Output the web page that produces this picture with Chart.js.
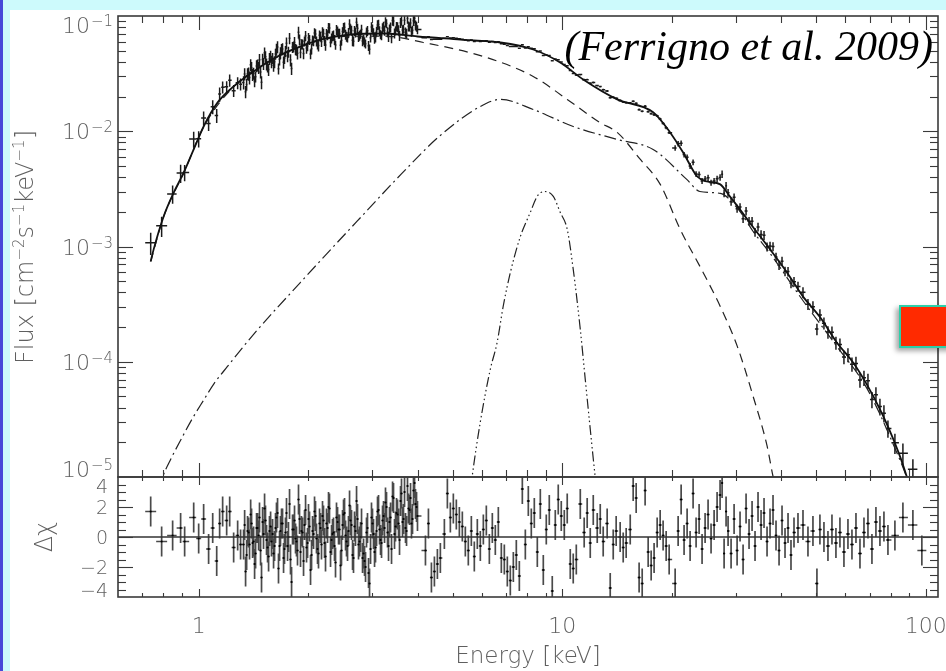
<!DOCTYPE html>
<html lang="en">
<head>
<meta charset="utf-8">
<title>Broad-band X-ray spectrum with residuals</title>
<script src="https://cdn.jsdelivr.net/npm/chart.js@4.4.1/dist/chart.umd.min.js"></script>
<style>
  html, body { margin: 0; padding: 0; }
  body { width: 946px; height: 671px; overflow: hidden; position: relative; background: #cdfafc; }
  #stripe { position: absolute; left: 0; top: 0; width: 3px; height: 671px; background: #4848d8; }
  #sheet { position: absolute; left: 10px; top: 10px; width: 936px; height: 661px; background: #ffffff; }
  canvas { position: absolute; left: 0; top: 0; }
  #marker { position: absolute; left: 899px; top: 305px; width: 60px; height: 43px; box-sizing: border-box;
            background: #ff2a00; border: 2px solid #2ccfa9; box-shadow: -3px 3px 5px rgba(0,0,0,0.35); }
</style>
</head>
<body>
<div id="stripe"></div>
<div id="sheet"></div>
<canvas id="resid" width="946" height="671"></canvas>
<canvas id="flux" width="946" height="671"></canvas>
<div id="marker"></div>
<script>
// ---------- broad-band spectrum: bin centres (keV) ----------
const energy = [
  0.738, 0.791, 0.848, 0.892, 0.915, 0.969, 1.000, 1.032, 1.065, 1.093, 1.121, 1.142, 1.164, 1.194, 1.217, 1.248, 1.280, 1.304,
  1.329, 1.346, 1.363, 1.380, 1.398, 1.416, 1.434, 1.452, 1.470, 1.489,
  1.508, 1.527, 1.547, 1.566, 1.586, 1.607, 1.627, 1.648, 1.669, 1.690,
  1.712, 1.733, 1.756, 1.778, 1.801, 1.824, 1.847, 1.870, 1.894, 1.918,
  1.943, 1.968, 1.993, 2.018, 2.044, 2.070, 2.096, 2.123, 2.150, 2.177,
  2.205, 2.233, 2.262, 2.290, 2.320, 2.349, 2.379, 2.410, 2.440, 2.471,
  2.503, 2.535, 2.567, 2.600, 2.633, 2.666, 2.700, 2.735, 2.770, 2.805,
  2.841, 2.877, 2.913, 2.951, 2.988, 3.026, 3.065, 3.104, 3.144, 3.184,
  3.224, 3.265, 3.307, 3.349, 3.392, 3.435, 3.479, 3.523, 3.568, 3.613,
  3.659, 3.706, 3.753, 3.801, 3.849, 3.898, 3.948, 3.998,
  4.205, 4.285, 4.367, 4.450, 4.535, 4.621, 4.740, 4.831, 4.923, 5.017,
  5.113, 5.212, 5.311, 5.413, 5.516, 5.623, 5.730, 5.840, 5.952, 6.067,
  6.183, 6.302, 6.422, 6.545, 6.671, 6.799, 6.929, 7.062, 7.197, 7.336,
  7.476, 7.620, 7.766, 7.915, 8.066, 8.220, 8.378, 8.539, 8.703, 8.869,
  9.038, 9.211, 9.387, 9.568, 9.750, 9.938, 10.13, 10.32, 10.52,
  10.72, 10.93, 11.21, 11.49, 11.71, 11.94, 12.17, 12.48, 12.72, 12.96,
  13.29, 13.55, 13.81, 14.07, 14.43, 14.71, 14.99, 15.38, 15.67, 15.97,
  16.27, 16.59, 16.90, 17.23, 17.56, 17.89, 18.24, 18.59, 18.94, 19.31, 19.68,
  20.44, 20.83, 21.23, 21.63, 22.05, 22.47, 22.90, 23.34, 23.79, 24.24,
  24.71, 25.18, 25.66, 26.16, 26.66, 27.17, 27.52, 27.87, 28.22, 28.58,
  29.13, 29.69, 30.26, 30.83, 31.43, 32.03, 32.64, 33.27, 33.90, 34.55,
  35.22, 35.89, 36.58, 37.28, 37.99, 38.72, 39.47, 40.22, 40.99, 41.78,
  42.57, 43.39, 44.50, 45.93, 47.40, 48.92, 50.17, 51.13, 52.45, 53.80,
  55.18, 56.59, 58.04, 59.53, 61.06, 62.63, 64.24, 65.89, 67.58, 69.31,
  71.08, 72.90, 74.77, 76.69, 78.66, 82.21, 86.48, 92.12, 97.50
];

// unfolded flux, cm^-2 s^-1 keV^-1
const flux = [
  1.08e-3, 1.51e-3, 2.86e-3, 4.34e-3, 4.39e-3, 8.55e-3, 8.61e-3, 1.30e-2, 1.17e-2, 1.63e-2, 1.37e-2, 2.10e-2, 2.41e-2, 2.43e-2, 2.77e-2, 2.25e-2, 2.63e-2, 2.56e-2,
  .0265, .0220, .0315, .0292, .0356, .0318, .0297, .0374, .0418, .0266,
  .0386, .0442, .0364, .0426, .0401, .0373, .0468, .0539, .0422, .0514,
  .0397, .0494, .0451, .0640, .0350, .0542, .0514, .0476, .0624, .0570,
  .0473, .0674, .0549, .0621, .0521, .0608, .0697, .0568, .0680, .0597,
  .0706, .0560, .0684, .0785, .0641, .0679, .0560, .0738, .0705, .0617,
  .0789, .0690, .0647, .0851, .0749, .0603, .0723, .0784, .0676, .0764,
  .0626, .0573, .0744, .0515, .0801, .0717, .0656, .0834, .0741, .0678,
  .0811, .0888, .0725, .0776, .0646, .0904, .0744, .0803, .0674, .0916,
  .0769, .0721, .0950, .0806, .0733, .0910, .0830, .0764,
  .0649, .0662, .0626, .0628, .0630, .0630, .0641, .0662, .0644, .0648,
  .0641, .0635, .0629, .0618, .0609, .0618, .0600, .0611, .0601, .0608,
  .0610, .0591, .0600, .0590, .0598, .0575, .0569, .0556, .0544, .0544,
  .0544, .0526, .0563, .0528, .0542, .0524, .0520, .0489, .0497, .0454,
  .0459, .0454, .0409, .0423, .0417, .0398, .0379, .0370, .0337,
  .0317, .0307, .0310, .0280, .0280, .0261, .0265, .0249, .0244, .0229,
  .0223, .0195, .0197, .0193, .0185, .0179, .0177, .0176, .0182, .0175,
  .0154, .0149, .0165, .0148, .0142, .0139, .0136, .0128, .0117, .0107, .0097,
  7.16e-3, 7.79e-3, 7.88e-3, 6.27e-3, 5.96e-3, 5.00e-3, 5.37e-3, 4.25e-3, 4.22e-3, 3.71e-3,
  3.86e-3, 3.94e-3, 3.58e-3, 3.70e-3, 3.87e-3, 3.97e-3, 4.24e-3, 2.90e-3, 3.37e-3, 2.93e-3,
  2.45e-3, 2.67e-3, 2.13e-3, 2.20e-3, 1.74e-3, 2.03e-3, 1.66e-3, 1.66e-3, 1.33e-3, 1.48e-3,
  1.27e-3, 1.25e-3, 9.96e-4, 1.01e-3, 1.00e-3, 8.09e-4, 6.88e-4, 7.46e-4, 6.09e-4, 6.07e-4,
  4.80e-4, 4.95e-4, 4.50e-4, 4.00e-4, 3.16e-4, 3.00e-4, 1.92e-4, 2.55e-4, 2.16e-4, 1.81e-4,
  1.80e-4, 1.46e-4, 1.41e-4, 1.10e-4, 1.15e-4, 9.53e-5, 9.67e-5, 6.95e-5, 7.25e-5, 6.83e-5,
  4.70e-5, 5.18e-5, 4.09e-5, 3.58e-5, 2.64e-5, 1.98e-5, 1.61e-5, 1.17e-5, 6.5e-6
];

// 1-sigma flux uncertainty, percent
const fluxErrPct = [
  22, 20, 18, 18, 16, 16, 16, 14, 14, 14, 14, 14, 12, 12, 12, 12, 12, 12,
  13, 12, 12, 13, 12, 12, 11, 12, 12, 13, 12, 12, 11, 12, 12, 12, 11, 12, 12, 11,
  12, 11, 12, 11, 12, 11, 11, 12, 11,
  10, 11, 10, 10, 10, 11, 10, 10, 10, 10, 10, 10, 11, 10, 10, 10, 10, 9, 10, 10,
  10, 10, 10, 9, 10, 10, 10, 10, 9, 10, 10, 10, 9, 10, 10, 10, 9, 10, 10, 10,
  9, 10, 10, 10, 9, 10, 10, 9, 10, 10, 10, 9, 10, 10, 9, 10, 10, 10, 9,
  1.5, 1.5, 1.5, 1.5, 1.5, 1.4, 1.4, 1.4, 1.4, 1.4, 1.4, 1.4, 1.4, 1.4, 1.4, 1.4, 1.4, 1.4, 1.4, 1.4,
  1.4, 1.4, 1.4, 1.4, 1.4, 1.4, 1.4, 1.4, 1.4, 1.4, 1.4, 1.4, 1.4, 1.4, 1.4, 1.4, 1.4, 1.5, 1.5, 1.5,
  1.5, 1.5, 1.5, 1.5, 1.5, 1.5, 1.6, 1.6, 1.6,
  1.7, 1.7, 1.8, 1.8, 1.8, 1.8, 1.9, 1.9, 1.9, 1.9, 2.0, 2.0, 2.0, 2.0, 2.0, 2.0, 2.0, 2.1, 2.1, 2.1,
  2.1, 2.1, 2.2, 2.2, 2.2, 2.3, 2.3, 2.4, 2.4, 2.5, 2.6,
  5.5, 5.5, 5.6, 5.6, 5.7, 5.8, 5.8, 5.9, 6.0, 6.0, 6.1, 6.2, 6.2, 6.3, 6.4, 6.5,
  7.5, 7.6, 7.7, 7.8, 7.9, 8.0, 8.0, 8.1, 8.2, 8.3, 8.4, 8.5, 8.6, 8.7,
  8.8, 8.9, 9, 9, 9.1, 9.2, 9.3, 9.4, 9.5, 9.6, 9.7, 9.8, 10,
  11, 11, 11.5, 11.5, 12, 12, 12.5, 12.5, 13, 13,
  13.5, 14, 14, 14.5, 14.5, 15, 15,
  16, 16, 16.5, 17, 17,
  20, 21, 22, 24
];

// residuals, (data - model) / sigma
const resid = [
  1.7, -0.3, 0.1, 0.6, -0.3, 1.3, -0.1, 1.2, -0.8, 0.6, -1.6, 0.9, 1.7, 1.1, 1.7, -0.7, 0.1, -0.5,
  -0.5, -2.3, 0.4, -0.5, 0.9, -0.3, -1.1, 0.6, 1.3, -2.7,
  0.2, 1.1, -0.7, 0.4, -0.3, -1.1, 0.6, 1.6, -0.6, 0.9,
  -1.4, 0.3, -0.6, 2.2, -3.0, 0.5, -0.1, -0.9, 1.2, 0.4,
  -1.6, 1.8, -0.4, 0.7, -1.2, 0.2, 1.4, -0.8, 0.9, -0.5,
  1.1, -1.3, 0.6, 1.9, -0.2, 0.3, -1.7, 1.0, 0.5, -0.9,
  1.5, 0.1, -0.6, 2.1, 0.8, -1.4, 0.4, 1.2, -0.3, 0.9,
  -1.1, -2.0, 0.6, -3.1, 1.3, 0.2, -0.7, 1.7, 0.5, -0.4,
  1.4, 2.3, 0.3, 1.0, -0.8, 2.6, 0.7, 1.5, -0.2, 2.9,
  1.2, 0.6, 3.4, 1.8, 0.9, 3.1, 2.2, 1.4,
  -0.9, 0.9, -2.7, -2.3, -1.8, -1.4, 0.2, 2.9, 1.3, 1.9,
  1.5, 1.0, 0.7, -0.3, -0.9, 0.4, -1.3, 0.2, -0.6, 0.5,
  1.1, -0.8, 0.6, -0.2, 1.0, -1.4, -1.5, -2.3, -2.9, -2.0,
  -1.2, -2.6, 3.2, -0.5, 2.4, 0.9, 1.6, -1.0, 2.2, -2.2,
  0.5, 1.8, -3.6, 0.8, 2.5, 1.4, 0.8, 1.9, -1.8,
  -2.1, -1.5, 2.2, 0.3, 1.6, -0.4, 1.8, 0.6, 1.2, -0.3,
  0.9, -3.4, -0.5, 0.4, 0.0, -0.7, -0.4, 0.5, 3.4, 2.6,
  -2.7, -3.1, 3.1, -1.0, -1.9, -1.4, 0.3, 0.8, 0.1, -0.6, -1.5,
  -3.1, 0.4, 2.5, -0.2, 0.9, -0.6, 2.9, 0.3, 1.2, -0.8,
  0.6, 1.5, -0.1, 0.8, 2.0, 2.8, 3.6, -1.1, 1.7, 0.4,
  -1.1, 1.2, -0.9, 0.7, -1.5, 1.9, 0.2, 1.4, -0.6, 2.0,
  0.8, 1.6, -0.3, 0.9, 1.8, 0.1, -0.9, 1.1, -0.4, 0.6,
  -1.2, 0.3, 0.6, 0.8, -0.3, 0.4, -3.1, 0.5, 0.0, -0.6,
  0.5, -0.4, 0.3, -1.0, 0.2, -0.5, 0.6, -1.1, 0.3, 0.9,
  -0.8, 1.0, 0.4, 0.7, -0.2, 0.1, 1.3, 0.8, -0.9
];

// ---------- second soft-band data set (1.3-4 keV) ----------
const energy2 = [
  1.338, 1.355, 1.372, 1.390, 1.407, 1.425, 1.443, 1.462, 1.480, 1.499,
  1.518, 1.537, 1.557, 1.577, 1.597, 1.617, 1.637, 1.658, 1.679, 1.701,
  1.722, 1.744, 1.766, 1.789, 1.812, 1.835, 1.858, 1.882, 1.906, 1.930,
  1.955, 1.980, 2.005, 2.031, 2.057, 2.083, 2.109, 2.136, 2.163, 2.191,
  2.219, 2.247, 2.276, 2.305, 2.334, 2.364, 2.394, 2.425, 2.456, 2.487,
  2.519, 2.551, 2.583, 2.616, 2.650, 2.683, 2.718, 2.752, 2.787, 2.823,
  2.859, 2.895, 2.932, 2.970, 3.007, 3.046, 3.085, 3.124, 3.164, 3.204,
  3.245, 3.286, 3.328, 3.371, 3.414, 3.457, 3.501, 3.546, 3.591, 3.637,
  3.683, 3.730, 3.777, 3.826, 3.874, 3.924, 3.974
];
const flux2 = [
  .0314, .0255, .0316, .0377, .0310, .0270, .0369, .0357, .0326, .0419,
  .0479, .0382, .0343, .0447, .0431, .0400, .0514, .0349, .0479, .0518,
  .0430, .0581, .0488, .0415, .0537, .0588, .0507, .0722, .0483, .0568,
  .0605, .0528, .0648, .0468, .0616, .0712, .0604, .0554, .0664, .0725,
  .0611, .0701, .0789, .0590, .0670, .0623, .0759, .0704, .0557, .0733,
  .0799, .0664, .0717, .0771, .0615, .0744, .0884, .0662, .0698, .0607,
  .0596, .0722, .0552, .0648, .0769, .0637, .0733, .0843, .0691, .0787,
  .0749, .0860, .0662, .0798, .0915, .0709, .0812, .0754, .0873, .0755,
  .0918, .0705, .0815, .0871, .0754, .0956, .0812
];
const fluxErrPct2 = [
  12, 12, 13, 12, 12, 11, 12, 12, 12, 12, 11, 12, 12, 12, 11, 12, 12, 11, 12, 12,
  11, 12, 11, 12, 11, 12, 11, 12, 11,
  10, 10, 11, 10, 10, 10, 10, 10, 11, 10, 10, 10, 10, 10, 9, 10, 10, 10, 10, 10,
  9, 10, 10, 10, 10, 11, 10, 10, 10, 9, 10, 10, 10, 10, 9, 10, 10, 10, 10, 9,
  10, 10, 9, 10, 10, 10, 10, 9, 10, 10, 10, 9, 10, 10, 10, 9, 10, 10
];
const resid2 = [
  0.8, -1.2, 0.3, 1.5, -0.4, -1.8, 0.6, 0.1, -0.9, 1.0,
  1.9, -0.2, -1.3, 0.7, 0.2, -0.6, 1.3, -2.1, 0.4, 0.9,
  -0.8, 1.6, 0.0, -1.5, 0.5, 1.1, -0.3, 2.5, -1.0, 0.3,
  0.8, -0.7, 1.2, -2.2, 0.4, 1.7, -0.1, -1.1, 0.6, 1.4,
  -0.4, 0.9, 2.0, -1.0, 0.2, -0.6, 1.3, 0.5, -1.9, 0.8,
  1.6, -0.3, 0.4, 1.1, -1.2, 0.7, 2.4, -0.5, 0.0, -1.4,
  -1.6, 0.3, -2.4, -0.8, 0.9, -1.0, 0.4, 1.8, -0.2, 1.1,
  0.6, 2.0, -0.6, 1.3, 2.7, 0.2, 1.6, 0.9, 2.4, 1.0,
  3.0, 0.4, 1.9, 2.6, 1.2, 3.6, 2.0
];

// ---------- model curves ----------
const totalE = [0.738, 0.752, 0.801, 0.854, 0.910, 0.969, 1.032, 1.128, 1.248, 1.416, 1.648, 1.906, 2.163, 2.62, 3.26,
  4.00, 5.25, 6.76, 8.32, 9.87, 11.42, 14.16, 17.78, 19.8, 21.5, 23.5, 25.0, 27.2, 28.9, 30.8,
  33.5, 37.3, 41.5, 45.9, 51.2, 56.9, 63.0, 68.8, 74.8, 79.7, 84.9, 88.7, 93.3];
const totalF = [7.43e-4, 9.44e-4, 1.82e-3, 2.94e-3, 4.39e-3, 6.95e-3, 1.10e-2, 1.78e-2, 2.45e-2, 3.30e-2, 4.45e-2, 5.44e-2, 6.25e-2, 6.91e-2, 7.05e-2,
  6.64e-2, 6.25e-2, 5.89e-2, 5.12e-2, 3.95e-2, 2.81e-2, 1.89e-2, 1.46e-2, 9.77e-3, 6.55e-3, 4.05e-3, 3.67e-3, 3.46e-3, 2.72e-3, 2.10e-3,
  1.47e-3, 9.44e-4, 5.96e-4, 3.69e-4, 2.43e-4, 1.47e-4, 9.9e-5, 6.37e-5, 3.86e-5, 2.49e-5, 1.51e-5, 1.0e-5, 6.0e-6];

// soft continuum (dashed)
const softE = [0.738, 0.801, 0.910, 1.032, 1.248, 1.648, 2.163, 2.62, 3.26, 4.15, 6.07, 8.32, 10.32, 12.7, 14.16,
  16.4, 18.6, 21.1, 24.4, 27.2, 30.3, 33.5, 36.6, 38.0, 39.7];
const softF = [7.4e-4, 1.81e-3, 4.35e-3, 1.09e-2, 2.43e-2, 4.41e-2, 6.15e-2, 6.7e-2, 6.7e-2, 5.89e-2, 4.45e-2, 2.99e-2, 1.89e-2, 1.19e-2, 9.77e-3,
  5.69e-3, 3.46e-3, 1.41e-3, 5.96e-4, 3.02e-4, 1.36e-4, 5.0e-5, 1.85e-5, 1.01e-5, 6e-6];

// hard component (dash-dot)
const hardE = [0.777, 0.796, 0.840, 0.900, 0.960, 1.030, 1.10, 1.20, 1.416, 1.906, 2.79, 3.60, 4.62, 5.95, 6.76,
  8.32, 10.72, 14.16, 17.78, 22.0, 23.9, 27.2, 30.8, 33.5, 37.3, 45.9, 56.9, 68.8, 84.9, 91.0];
const hardF = [7.7e-6, 1.0e-5, 1.45e-5, 2.2e-5, 3.2e-5, 4.6e-5, 6.4e-5, 9.1e-5, 1.73e-4, 4.89e-4, 1.79e-3, 4.22e-3, 9.20e-3, 1.64e-2, 1.89e-2,
  1.545e-2, 1.10e-2, 8.49e-3, 6.95e-3, 3.82e-3, 3.0e-3, 2.89e-3, 2.02e-3, 1.35e-3, 8.7e-4, 3.4e-4, 1.36e-4, 5.9e-5, 1.4e-5, 8e-6];

// Gaussian line (dash-dot-dot-dot)
const gaussE = [5.48, 5.65, 5.95, 6.34, 6.62, 6.88, 7.20, 7.67, 8.17, 8.53, 8.95, 9.45, 9.87, 10.32, 10.72, 11.21, 11.57, 11.94, 12.32, 12.70];
const gaussF = [4.4e-6, 1.0e-5, 2.98e-5, 8.59e-5, 1.47e-4, 3.03e-4, 5.96e-4, 1.22e-3, 1.98e-3, 2.72e-3, 3.0e-3, 2.72e-3, 1.98e-3, 1.41e-3, 6.33e-4, 1.91e-4, 7.0e-5, 2.6e-5, 1.0e-5, 4.4e-6];

// ---------- axes ----------
const energyRange = [0.6, 108];
const fluxRange = [1e-5, 0.1];
const residRange = [-4, 4];
const fluxTicks = [1e-1, 1e-2, 1e-3, 1e-4, 1e-5];
const fluxTickExp = ['\u22121', '\u22122', '\u22123', '\u22124', '\u22125'];
const residTicks = [4, 2, 0, -2, -4];
const residTickLabels = ['4', '2', '0', '\u22122', '\u22124'];
const energyTicks = [1, 10, 100];
const energyTickLabels = ['1', '10', '100'];

// ---------- helpers ----------
const INK = '#3a3a3a';
const LABEL = '#5f5f5f';
const FACE = '"DejaVu Sans", "Liberation Sans", sans-serif';
const font = (size) => `200 ${size}px ${FACE}`;
const pairs = (xs, ys) => xs.map((x, i) => ({ x, y: ys[i] }));

// bin edges halfway (in log) between neighbouring centres
const edgesOf = (es) => ({
  lo: es.map((e, i) => i > 0 ? Math.sqrt(es[i - 1] * e) : e * Math.sqrt(e / es[1])),
  hi: es.map((e, i) => i < es.length - 1 ? Math.sqrt(es[i + 1] * e) : e * Math.sqrt(e / es[i - 1]))
});
const edges1 = edgesOf(energy);
const edges2 = edgesOf(energy2);

function decadeTicks(min, max) {
  const out = [];
  for (let d = Math.floor(Math.log10(min)); d <= Math.ceil(Math.log10(max)); d++) {
    for (let m = 1; m <= 9; m++) {
      const v = m * Math.pow(10, d);
      if (v <= min * 1.0001 || v >= max * 0.9999) continue;
      out.push([v, m === 1]);
    }
  }
  return out;
}

function frameAndTicks(chart, cfg) {
  const { ctx, chartArea: a, scales: { x, y } } = chart;
  ctx.save();
  ctx.strokeStyle = INK;
  ctx.lineWidth = 1.1;
  const seg = (x0, y0, x1, y1) => { ctx.beginPath(); ctx.moveTo(x0, y0); ctx.lineTo(x1, y1); ctx.stroke(); };
  for (const [v, major] of decadeTicks(x.min, x.max)) {
    const p = Math.round(x.getPixelForValue(v)) + 0.5;
    const len = major ? cfg.xMajor : cfg.xMinor;
    seg(p, a.bottom, p, a.bottom - len);
    seg(p, a.top, p, a.top + len);
  }
  for (const [v, major] of cfg.yTicks(y)) {
    const p = Math.round(y.getPixelForValue(v)) + 0.5;
    const len = major ? cfg.yMajor : cfg.yMinor;
    seg(a.left, p, a.left + len, p);
    seg(a.right, p, a.right - len, p);
  }
  ctx.lineWidth = 1.6;
  ctx.strokeRect(a.left, a.top, a.right - a.left, a.bottom - a.top);
  ctx.restore();
}

function richRotated(ctx, parts, baseX, centerY, size, supSize, raise) {
  ctx.save();
  ctx.translate(baseX, centerY);
  ctx.rotate(-Math.PI / 2);
  ctx.fillStyle = LABEL;
  ctx.textBaseline = 'alphabetic';
  ctx.textAlign = 'left';
  const widths = parts.map(p => { ctx.font = font(p.sup ? supSize : size); return ctx.measureText(p.t).width; });
  let pos = -widths.reduce((s, w) => s + w, 0) / 2;
  parts.forEach((p, i) => {
    ctx.font = font(p.sup ? supSize : size);
    ctx.fillText(p.t, pos, p.sup ? -raise : 0);
    pos += widths[i];
  });
  ctx.restore();
}

// crosses: vertical = value error, horizontal = bin width
function drawErrorBars(chart, es, edges, ys, lo, hi, color, width) {
  const { ctx, chartArea: a, scales: { x, y } } = chart;
  ctx.save();
  ctx.beginPath();
  ctx.rect(a.left, a.top, a.right - a.left, a.bottom - a.top);
  ctx.clip();
  ctx.strokeStyle = color;
  ctx.lineWidth = width;
  ctx.beginPath();
  es.forEach((e, i) => {
    const px = x.getPixelForValue(e);
    const py = y.getPixelForValue(ys[i]);
    ctx.moveTo(px, y.getPixelForValue(lo[i]));
    ctx.lineTo(px, y.getPixelForValue(hi[i]));
    ctx.moveTo(x.getPixelForValue(edges.lo[i]), py);
    ctx.lineTo(x.getPixelForValue(edges.hi[i]), py);
  });
  ctx.stroke();
  ctx.restore();
}

const baseOptions = (padding, yScale) => ({
  responsive: false,
  animation: false,
  devicePixelRatio: 1,
  events: [],
  layout: { padding },
  plugins: { legend: { display: false }, tooltip: { enabled: false } },
  scales: {
    x: { type: 'logarithmic', min: energyRange[0], max: energyRange[1], display: false },
    y: Object.assign({ display: false }, yScale)
  }
});

// ---------- spectrum panel ----------
const errLo = (f, p) => f.map((v, i) => v * (1 - p[i] / 100));
const errHi = (f, p) => f.map((v, i) => v * (1 + p[i] / 100));

new Chart(document.getElementById('flux'), {
  type: 'scatter',
  data: {
    datasets: [
      { type: 'line', label: 'Total model', data: pairs(totalE, totalF), borderColor: '#111', borderWidth: 1.8,
        pointRadius: 0, cubicInterpolationMode: 'monotone' },
      { type: 'line', label: 'Soft continuum', data: pairs(softE, softF), borderColor: '#222', borderWidth: 1.2,
        borderDash: [9, 6], pointRadius: 0, cubicInterpolationMode: 'monotone' },
      { type: 'line', label: 'Hard component', data: pairs(hardE, hardF), borderColor: '#222', borderWidth: 1.2,
        borderDash: [12, 4, 2, 4], pointRadius: 0, cubicInterpolationMode: 'monotone' },
      { type: 'line', label: 'Gaussian', data: pairs(gaussE, gaussF), borderColor: '#222', borderWidth: 1.2,
        borderDash: [10, 3, 1.5, 3, 1.5, 3, 1.5, 3], pointRadius: 0, cubicInterpolationMode: 'monotone' },
      { type: 'scatter', label: 'Data', data: pairs(energy, flux), pointRadius: 0 },
      { type: 'scatter', label: 'Data (soft band)', data: pairs(energy2, flux2), pointRadius: 0 }
    ]
  },
  options: baseOptions({ left: 118, right: 8, top: 16, bottom: 194 },
    { type: 'logarithmic', min: fluxRange[0], max: fluxRange[1] }),
  plugins: [{
    id: 'spectrumDecor',
    beforeDatasetsDraw(chart) {
      drawErrorBars(chart, energy, edges1, flux, errLo(flux, fluxErrPct), errHi(flux, fluxErrPct), '#1a1a1a', 1.5);
      drawErrorBars(chart, energy2, edges2, flux2, errLo(flux2, fluxErrPct2), errHi(flux2, fluxErrPct2), '#1a1a1a', 1.5);
    },
    afterDraw(chart) {
      const { ctx, scales: { y } } = chart;
      frameAndTicks(chart, {
        xMajor: 14, xMinor: 7, yMajor: 15, yMinor: 8,
        yTicks: (s) => decadeTicks(s.min, s.max)
      });
      ctx.save();
      ctx.fillStyle = LABEL;
      ctx.textAlign = 'right';
      ctx.textBaseline = 'alphabetic';
      fluxTicks.forEach((v, i) => {
        let yc = y.getPixelForValue(v);
        if (i === 0) yc += 9;
        if (i === fluxTicks.length - 1) yc -= 8;
        ctx.font = font(15);
        const sw = ctx.measureText(fluxTickExp[i]).width;
        ctx.fillText(fluxTickExp[i], 113, yc + 1);
        ctx.font = font(22);
        ctx.fillText('10', 113 - sw - 1, yc + 8);
      });
      ctx.restore();
      richRotated(ctx, [
        { t: 'Flux [cm' }, { t: '\u22122', sup: true }, { t: 's' }, { t: '\u22121', sup: true },
        { t: 'keV' }, { t: '\u22121', sup: true }, { t: ']' }
      ], 33, 247, 24, 15, 9);
      ctx.save();
      ctx.fillStyle = '#000';
      ctx.font = 'italic 42px "Liberation Serif", "Times New Roman", serif';
      ctx.textAlign = 'right';
      ctx.textBaseline = 'alphabetic';
      ctx.fillText('(Ferrigno et al. 2009)', 933, 60);
      ctx.restore();
    }
  }]
});

// ---------- residual panel ----------
const plusMinusOne = (r) => ({ lo: r.map(v => v - 1), hi: r.map(v => v + 1) });
const rBars1 = plusMinusOne(resid);
const rBars2 = plusMinusOne(resid2);

new Chart(document.getElementById('resid'), {
  type: 'scatter',
  data: {
    datasets: [
      { type: 'line', label: 'Zero', data: [{ x: energyRange[0], y: 0 }, { x: energyRange[1], y: 0 }],
        borderColor: '#333', borderWidth: 1.4, pointRadius: 0 },
      { type: 'scatter', label: 'Residuals', data: pairs(energy, resid), pointRadius: 1.1, pointBackgroundColor: '#000',
        pointBorderWidth: 0 },
      { type: 'scatter', label: 'Residuals (soft band)', data: pairs(energy2, resid2), pointRadius: 1.1,
        pointBackgroundColor: '#000', pointBorderWidth: 0 }
    ]
  },
  options: baseOptions({ left: 118, right: 8, top: 477, bottom: 74 },
    { type: 'linear', min: residRange[0], max: residRange[1] }),
  plugins: [{
    id: 'residualDecor',
    beforeDatasetsDraw(chart) {
      drawErrorBars(chart, energy, edges1, resid, rBars1.lo, rBars1.hi, '#4a4a4a', 1.7);
      drawErrorBars(chart, energy2, edges2, resid2, rBars2.lo, rBars2.hi, '#4a4a4a', 1.7);
    },
    afterDraw(chart) {
      const { ctx, scales: { x, y } } = chart;
      frameAndTicks(chart, {
        xMajor: 8, xMinor: 4, yMajor: 15, yMinor: 8,
        yTicks: () => {
          const t = [];
          for (let k = -7; k <= 7; k++) t.push([k / 2, k % 4 === 0]);
          return t;
        }
      });
      ctx.save();
      ctx.fillStyle = LABEL;
      ctx.textBaseline = 'alphabetic';
      ctx.textAlign = 'right';
      ctx.font = font(19);
      residTicks.forEach((v, i) => {
        let yc = y.getPixelForValue(v);
        if (i === 0) yc += 9;
        if (i === residTicks.length - 1) yc -= 7;
        ctx.fillText(residTickLabels[i], 108, yc + 7);
      });
      ctx.textAlign = 'center';
      ctx.font = font(22);
      energyTicks.forEach((v, i) => ctx.fillText(energyTickLabels[i], x.getPixelForValue(v), 633));
      ctx.font = font(23);
      const a = chart.chartArea;
      ctx.fillText('Energy [keV]', (a.left + a.right) / 2, 663);
      ctx.restore();
      richRotated(ctx, [{ t: '\u0394\u03c7' }], 52, 537, 24, 15, 0);
    }
  }]
});
</script>
</body>
</html>
